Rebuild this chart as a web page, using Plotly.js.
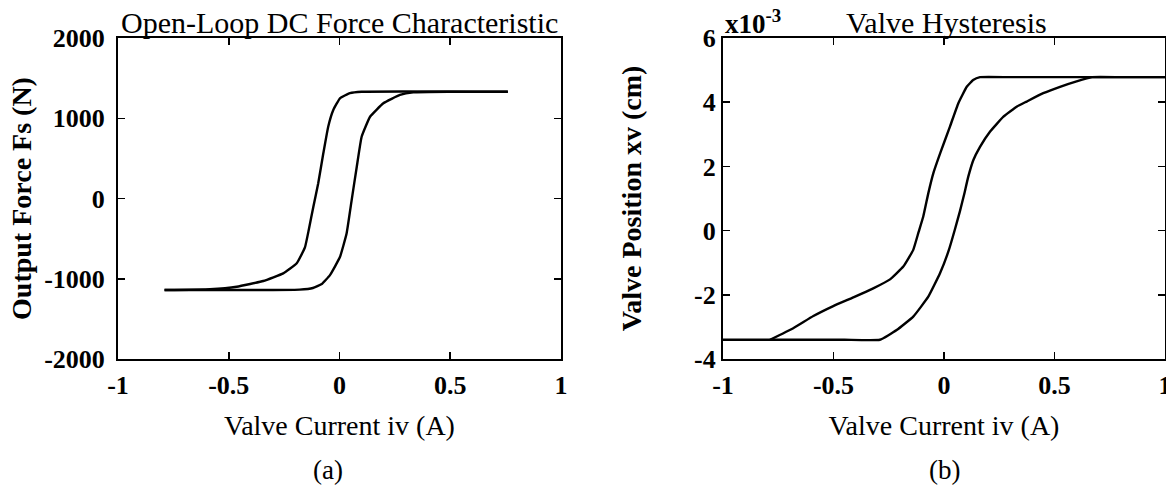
<!DOCTYPE html>
<html>
<head>
<meta charset="utf-8">
<script src="https://cdn.plot.ly/plotly-3.0.1.min.js"></script>
<style>
html,body{margin:0;padding:0;background:#fff;}
#chart{width:1166px;height:493px;}
</style>
</head>
<body>
<div id="chart"></div>
<script>
// ---- (a) Open-Loop DC Force Characteristic ----
var forceRisingCurrent = [-0.79, -0.5, -0.3, -0.18, -0.12, -0.08, -0.043, 0.002, 0.032, 0.055, 0.078, 0.100, 0.138, 0.198, 0.273, 0.333, 0.5, 0.76];
var forceRisingForce   = [-1140, -1140, -1140, -1136, -1115, -1065, -955, -730, -437, -20, 396, 770, 1019, 1186, 1290, 1323, 1330, 1330];
var forceFallingCurrent = [-0.79, -0.585, -0.464, -0.344, -0.254, -0.193, -0.156, -0.138, -0.118, -0.096, -0.073, -0.051, -0.028, 0.002, 0.047, 0.10, 0.76];
var forceFallingForce   = [-1140, -1130, -1099, -1028, -933, -808, -610, -380, -102, 190, 563, 895, 1103, 1249, 1312, 1330, 1330];

// ---- (b) Valve Hysteresis (position in units of 1e-3 cm) ----
var valveUpperCurrent = [-0.787, -0.682, -0.591, -0.501, -0.410, -0.320, -0.244, -0.184, -0.139, -0.115, -0.094, -0.071, -0.048, -0.015, 0.027, 0.065, 0.103, 0.132, 0.163, 0.30, 0.60, 1.0];
var valveUpperPos     = [-3.4, -3.04, -2.66, -2.35, -2.08, -1.80, -1.52, -1.12, -0.60, -0.05, 0.43, 1.16, 1.79, 2.45, 3.24, 3.97, 4.48, 4.69, 4.78, 4.78, 4.78, 4.78];
var valveLowerCurrent = [-1.0, -0.7, -0.45, -0.290, -0.214, -0.139, -0.071, -0.018, 0.020, 0.050, 0.072, 0.092, 0.110, 0.133, 0.163, 0.208, 0.269, 0.329, 0.374, 0.449, 0.525, 0.60, 0.67, 0.80, 1.0];
var valveLowerPos     = [-3.4, -3.4, -3.4, -3.4, -3.10, -2.68, -2.06, -1.33, -0.65, 0.05, 0.60, 1.15, 1.68, 2.20, 2.61, 3.08, 3.55, 3.86, 4.02, 4.28, 4.48, 4.65, 4.78, 4.78, 4.78];

// ---- tick labels ----
var currentTickVals = [-1, -0.5, 0, 0.5, 1];
var currentTickText = ['-1', '-0.5', '0', '0.5', '1'];
var forceTickVals = [-2000, -1000, 0, 1000, 2000];
var forceTickText = ['-2000', '-1000', '0', '1000', '2000'];
var posTickVals = [-4, -2, 0, 2, 4, 6];
var posTickText = ['-4', '-2', '0', '2', '4', '6'];

var serif = '"Liberation Serif", "Times New Roman", serif';
var lineStyle = {color: '#000', width: 2.4, shape: 'spline', smoothing: 0.35};

var traces = [
  {x: forceRisingCurrent, y: forceRisingForce, mode: 'lines', line: lineStyle, xaxis: 'x', yaxis: 'y', hoverinfo: 'x+y'},
  {x: forceFallingCurrent, y: forceFallingForce, mode: 'lines', line: lineStyle, xaxis: 'x', yaxis: 'y', hoverinfo: 'x+y'},
  {x: valveUpperCurrent, y: valveUpperPos, mode: 'lines', line: lineStyle, xaxis: 'x2', yaxis: 'y2', hoverinfo: 'x+y'},
  {x: valveLowerCurrent, y: valveLowerPos, mode: 'lines', line: lineStyle, xaxis: 'x2', yaxis: 'y2', hoverinfo: 'x+y'}
];

function axisBase() {
  return {
    showgrid: false, zeroline: false, showline: true, linecolor: '#000', linewidth: 2,
    mirror: 'ticks', ticks: 'inside', ticklen: 7, tickwidth: 1.5, tickcolor: '#000',
    tickmode: 'array', tickfont: {family: serif, size: 26, color: '#000', weight: 'bold'},
    ticklabeloverflow: 'allow', fixedrange: true
  };
}

var xa = axisBase();
xa.domain = [0, 0.4231]; xa.range = [-1, 1]; xa.tickvals = currentTickVals; xa.ticktext = currentTickText;
xa.anchor = 'y'; xa.ticklabelstandoff = 2;
xa.title = {text: 'Valve Current iv (A)', font: {family: serif, size: 28, color: '#000'}, standoff: 16};

var ya = axisBase();
ya.domain = [0, 1]; ya.range = [-2000, 2000]; ya.tickvals = forceTickVals; ya.ticktext = forceTickText;
ya.anchor = 'x'; ya.ticklabelstandoff = 6;
ya.title = {text: 'Output Force Fs (N)', font: {family: serif, size: 28, color: '#000', weight: 'bold'}, standoff: 4};

var xa2 = axisBase();
xa2.domain = [0.5778, 1]; xa2.range = [-1, 1]; xa2.tickvals = currentTickVals; xa2.ticktext = currentTickText;
xa2.anchor = 'y2'; xa2.ticklabelstandoff = 2;
xa2.title = {text: 'Valve Current iv (A)', font: {family: serif, size: 28, color: '#000'}, standoff: 16};

var ya2 = axisBase();
ya2.domain = [0, 1]; ya2.range = [-4, 6]; ya2.tickvals = posTickVals; ya2.ticktext = posTickText;
ya2.anchor = 'x2'; ya2.ticklabelstandoff = 0;
ya2.title = {text: 'Valve Position xv (cm)', font: {family: serif, size: 28, color: '#000', weight: 'bold'}, standoff: 44};

var layout = {
  width: 1166, height: 493,
  margin: {l: 118, r: 1, t: 38, b: 134},
  paper_bgcolor: '#fff', plot_bgcolor: '#fff',
  showlegend: false,
  xaxis: xa, yaxis: ya, xaxis2: xa2, yaxis2: ya2,
  annotations: [
    {text: 'Open-Loop DC Force Characteristic', xref: 'x domain', yref: 'y domain', x: 0.5, y: 1, xanchor: 'center', yanchor: 'bottom', yshift: -3, showarrow: false, font: {family: serif, size: 30, color: '#000'}},
    {text: 'Valve Hysteresis', xref: 'x2 domain', yref: 'y2 domain', x: 0.505, y: 1, xanchor: 'center', yanchor: 'bottom', yshift: -3, showarrow: false, font: {family: serif, size: 30, color: '#000'}},
    {text: 'x10<sup>-3</sup>', xref: 'x2 domain', yref: 'y2 domain', x: 0, y: 1, xanchor: 'left', yanchor: 'bottom', yshift: -3, showarrow: false, font: {family: serif, size: 27, color: '#000', weight: 'bold'}},
    {text: '(a)', xref: 'x domain', yref: 'paper', x: 0.474, y: -0.346, xanchor: 'center', yanchor: 'middle', showarrow: false, font: {family: serif, size: 27, color: '#000'}},
    {text: '(b)', xref: 'x2 domain', yref: 'paper', x: 0.502, y: -0.346, xanchor: 'center', yanchor: 'middle', showarrow: false, font: {family: serif, size: 27, color: '#000'}}
  ]
};

Plotly.newPlot('chart', traces, layout, {displayModeBar: false, staticPlot: true});
</script>
</body>
</html>
